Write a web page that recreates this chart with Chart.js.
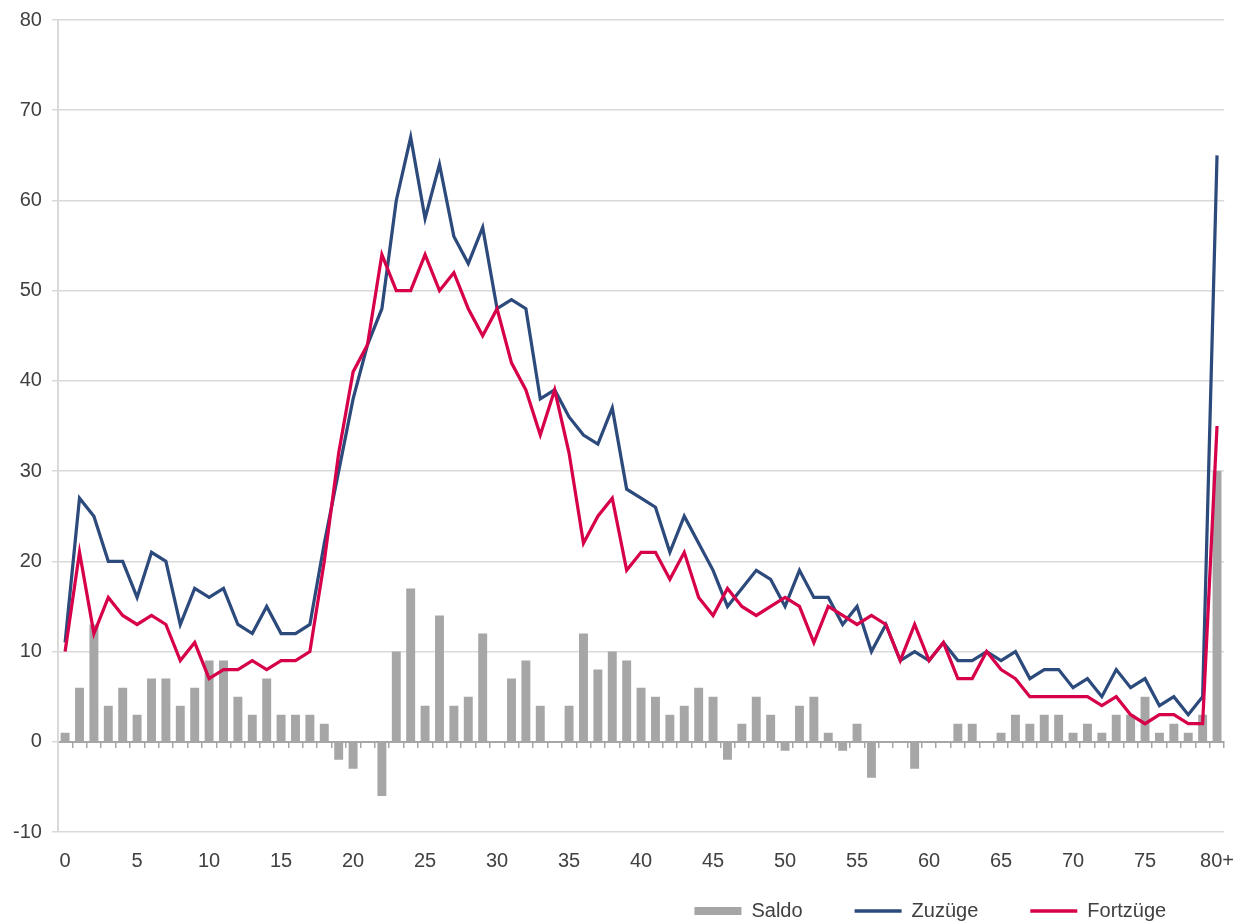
<!DOCTYPE html>
<html>
<head>
<meta charset="utf-8">
<script src="https://cdn.jsdelivr.net/npm/chart.js@4/dist/chart.umd.min.js"></script>
<style>
  html, body { margin: 0; padding: 0; background: #ffffff; }
  #wrap { width: 1239px; height: 924px; }
</style>
</head>
<body>
<div id="wrap"><canvas id="c" width="1239" height="924"></canvas></div>
<script>
const categories = [];
for (let i = 0; i < 80; i++) categories.push(String(i));
categories.push('80+');

const saldo = [1,6,13,4,6,3,7,7,4,6, 9,9,5,3,7,3,3,3,2,-2, -3,0,-6,10,17,4,14,4,5,12, 0,7,9,4,0,4,12,8,10,9, 6,5,3,4,6,5,-2,2,5,3, -1,4,5,1,-1,2,-4,0,0,-3, 0,0,2,2,0,1,3,2,3,3, 1,2,1,3,3,5,1,2,1,3, 30];
const zuzuege = [11,27,25,20,20,16,21,20,13,17, 16,17,13,12,15,12,12,13,22,30, 38,44,48,60,67,58,64,56,53,57, 48,49,48,38,39,36,34,33,37,28, 27,26,21,25,22,19,15,17,19,18, 15,19,16,16,13,15,10,13,9,10, 9,11,9,9,10,9,10,7,8,8, 6,7,5,8,6,7,4,5,3,5, 65];
const fortzuege = [10,21,12,16,14,13,14,13,9,11, 7,8,8,9,8,9,9,10,20,32, 41,44,54,50,50,54,50,52,48,45, 48,42,39,34,39,32,22,25,27,19, 21,21,18,21,16,14,17,15,14,15, 16,15,11,15,14,13,14,13,9,13, 9,11,7,7,10,8,7,5,5,5, 5,5,4,5,3,2,3,3,2,2, 35];
const yTicks = [-10,0,10,20,30,40,50,60,70,80];
const seriesNames = ['Saldo', 'Zuzüge', 'Fortzüge'];

const FONT = '"Liberation Sans", Arial, sans-serif';
const FSIZE = 20;
const TEXT = '#404040';
const COL_BAR = '#a6a6a6';
const COL_BLUE = '#2d4a7c';
const COL_RED = '#d7004b';
const LEGEND_GAP = 52;

// place the legend row near the bottom edge, independent of its item spacing
const legendPlacer = {
  id: 'legendPlacer',
  afterLayout(chart) {
    const L = chart.legend;
    if (!L) return;
    L.top = chart.height - 13 - LEGEND_GAP - FSIZE / 2;
    L.bottom = chart.height;
    L.height = L.bottom - L.top;
    L.left -= 6;
    L.right -= 6;
  }
};

new Chart(document.getElementById('c'), {
  data: {
    labels: categories,
    datasets: [
      { type: 'bar', label: seriesNames[0], data: saldo, backgroundColor: COL_BAR,
        barPercentage: 0.62, categoryPercentage: 1.0, order: 2, xAxisID: 'x' },
      { type: 'line', label: seriesNames[1], data: zuzuege, borderColor: COL_BLUE, backgroundColor: COL_BLUE,
        borderWidth: 3.25, pointRadius: 0, tension: 0, order: 1, xAxisID: 'x' },
      { type: 'line', label: seriesNames[2], data: fortzuege, borderColor: COL_RED, backgroundColor: COL_RED,
        borderWidth: 3.25, pointRadius: 0, tension: 0, order: 0, xAxisID: 'x' }
    ]
  },
  plugins: [legendPlacer],
  options: {
    responsive: false,
    devicePixelRatio: 1,
    animation: false,
    layout: { padding: { top: 0, right: 1, left: 3, bottom: 0 } },
    scales: {
      x: {
        type: 'category',
        position: 'bottom',
        offset: true,
        grid: { display: false, drawTicks: true, tickLength: 12 },
        border: { display: false },
        ticks: {
          autoSkip: false, maxRotation: 0, minRotation: 0, padding: 5,
          color: TEXT, font: { family: FONT, size: FSIZE },
          callback: function(val, idx) { return idx % 5 === 0 ? categories[idx] : ''; }
        }
      },
      x0: {
        type: 'category',
        position: { y: 0 },
        offset: true,
        grid: { display: true, drawOnChartArea: false, drawTicks: true, tickLength: 5,
                color: COL_BAR, lineWidth: 1.5, offset: true },
        border: { display: true, color: COL_BAR, width: 2 },
        ticks: { display: false }
      },
      y: {
        min: -10, max: 80,
        afterBuildTicks: function(scale) { scale.ticks = yTicks.map(v => ({ value: v })); },
        grid: { color: '#d9d9d9', lineWidth: 1.5, drawTicks: true, tickLength: 6 },
        border: { display: true, color: '#d9d9d9', width: 2 },
        ticks: { color: TEXT, font: { family: FONT, size: FSIZE, lineHeight: 1 }, padding: 10 }
      }
    },
    plugins: {
      tooltip: { enabled: false },
      legend: {
        position: 'bottom',
        align: 'end',
        fullSize: false,
        maxHeight: 46,
        labels: {
          usePointStyle: true,
          pointStyleWidth: 47,
          boxHeight: 8,
          padding: LEGEND_GAP,
          color: TEXT,
          font: { family: FONT, size: FSIZE },
          sort: (a, b) => a.datasetIndex - b.datasetIndex,
          generateLabels: function(chart) {
            const items = Chart.defaults.plugins.legend.labels.generateLabels(chart);
            items.forEach(it => {
              const ds = chart.data.datasets[it.datasetIndex];
              if (ds.type === 'bar') {
                it.pointStyle = 'rect';
                it.lineWidth = 0;
                it.fillStyle = COL_BAR;
                it.strokeStyle = COL_BAR;
              } else {
                it.pointStyle = 'line';
                it.lineWidth = 3.5;
                it.strokeStyle = ds.borderColor;
              }
            });
            return items;
          }
        }
      }
    }
  }
});
</script>
</body>
</html>
